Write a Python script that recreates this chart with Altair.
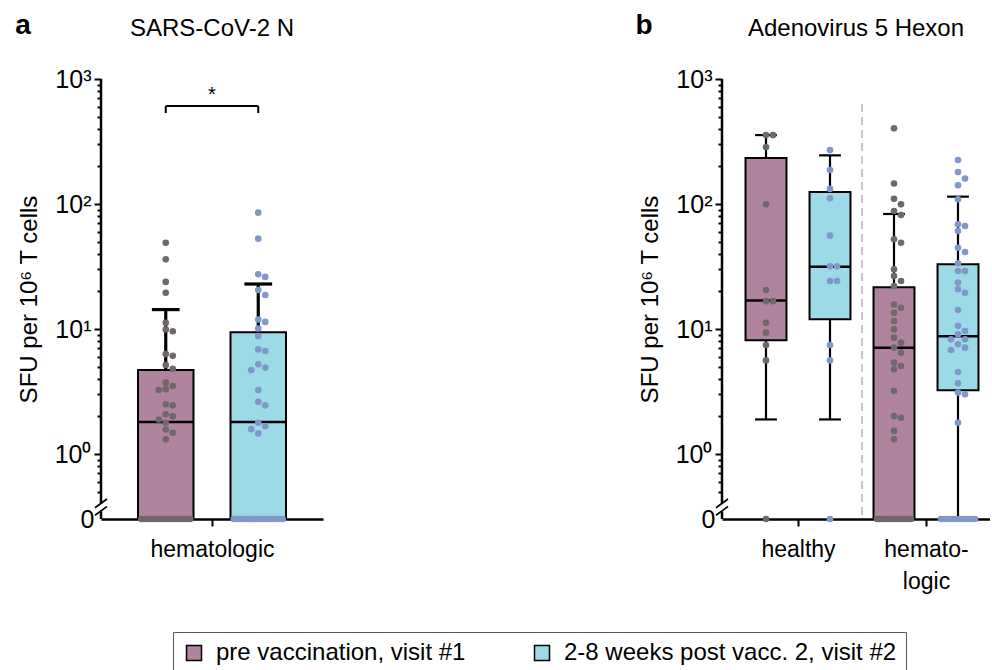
import numpy as np
import pandas as pd
import altair as alt

FONT = "Liberation Sans"

# ---------------- data ----------------
VISITS = ["pre vaccination, visit #1", "2-8 weeks post vacc. 2, visit #2"]
BOX_FILL = ["#b0839f", "#9cdae8"]
DOT_FILL = ["#6e686d", "#8196c9"]

# panel a: SARS-CoV-2 N, hematologic patients
A_GROUPS = ["hematologic"]
a_hem_pre = [49.0, 36.1, 23.8, 19.5, 11.2, 9.9, 9.6, 6.3, 6.1, 5.15, 4.8, 3.72, 3.5, 3.3,
             3.25, 2.5, 2.45, 2.08, 2.0, 1.89, 1.78, 1.57, 1.48, 1.31,
             0, 0, 0, 0, 0, 0, 0, 0, 0, 0, 0, 0, 0, 0, 0, 0, 0, 0, 0]
a_hem_post = [85.3, 52.8, 27.4, 26.1, 20.5, 18.7, 11.9, 11.4, 10.1, 8.79, 6.87, 6.67, 5.22,
              4.91, 4.70, 3.25, 2.61, 2.45, 1.78, 1.67, 1.58, 1.46,
              0, 0, 0, 0, 0, 0, 0, 0, 0, 0, 0, 0, 0, 0, 0, 0, 0]
# box statistics, order: pre, post
A_Q1 = [0, 0]
A_MED = [1.80, 1.80]
A_Q3 = [4.70, 9.4]
A_WLO = [0, 0]
A_WHI = [14.3, 22.9]

# panel b: Adenovirus 5 Hexon
B_GROUPS = ["healthy", "hematologic"]
b_healthy_pre = [356, 356, 286, 99.4, 20.5, 16.7, 16.7, 11.2, 9.35, 7.45, 5.61, 0]
b_healthy_post = [270, 187, 132, 111, 55.8, 31.7, 31.7, 24.2, 24.2, 7.45, 5.61, 0]
b_hem_pre = [403, 146, 110, 99.4, 87.9, 81.7, 52.2, 49.0, 30.0, 26.5, 24.2, 22.1, 15.7,
             14.8, 13.5, 11.6, 9.94, 8.53, 7.78, 7.09, 6.47, 5.38, 5.06, 4.76, 3.19, 2.01,
             1.95, 1.53, 1.31,
             0, 0, 0, 0, 0, 0, 0, 0, 0, 0, 0, 0, 0]
b_hem_post = [225, 180, 160, 141, 109, 68.8, 66.7, 60.8, 44.7, 41.3, 33.5, 29.1, 29.1, 23.5,
              20.8, 19.5, 14.2, 10.6, 9.64, 9.05, 8.27, 8.27, 7.54, 7.09, 6.79, 4.53, 3.68,
              3.10, 3.00, 1.78,
              0, 0, 0, 0, 0, 0, 0, 0, 0, 0]
# box statistics, order: healthy pre, healthy post, hematologic pre, hematologic post
B_Q1 = [8.13, 11.95, 0, 3.23]
B_MED = [16.9, 31.5, 7.09, 8.74]
B_Q3 = [233, 125, 21.6, 32.9]
B_WLO = [1.89, 1.89, 0, 0]
B_WHI = [356, 245, 83.2, 114.5]

# ---------------- layout constants ----------------
ZERO_T = -0.52           # position of the "0" level below the axis break (in decades)
BREAK_LO, BREAK_HI = -0.46, -0.40
TOP_T = 3.0
PLOT_H = 440
PX_DEC = PLOT_H / (TOP_T - ZERO_T)


def tr(field):
    return f"datum.{field} > 0 ? log(datum.{field}) / LN10 : {ZERO_T}"


def swarm(values, unit_px, half_px, d=7.0):
    """deterministic beeswarm offsets (in x units) so that dots do not overlap"""
    offs = [0.0] * len(values)
    zeros = [i for i, v in enumerate(values) if v == 0]
    if len(zeros) > 1:
        span = half_px - 3.5
        for k, i in enumerate(zeros):
            offs[i] = (-span + 2 * span * k / (len(zeros) - 1)) / unit_px
    placed = []
    order = sorted([i for i, v in enumerate(values) if v > 0], key=lambda i: -values[i])
    for i in order:
        y = np.log10(values[i]) * PX_DEC
        x = 0.0
        for k in [0, 1, -1, 2, -2, 3, -3]:
            x = k * d
            if all((x - px) ** 2 + (y - py) ** 2 >= (d - 0.5) ** 2 for px, py in placed):
                break
        placed.append((x, y))
        offs[i] = x / unit_px
    return offs


def points_frame(series, unit_px, half_px):
    rows = []
    for center, vi, vals in series:
        offs = swarm(vals, unit_px, half_px)
        for v, o in zip(vals, offs):
            rows.append({"px": center + o, "v": v, "dot": DOT_FILL[vi], "visit": VISITS[vi]})
    return pd.DataFrame(rows)


MINOR = [float(np.log10(k * 10.0 ** j)) for j in (-1, 0, 1, 2) for k in range(2, 10)
         if 0.5 <= k * 10.0 ** j < 1000]
Y_TICKS = [ZERO_T, 0, 1, 2, 3] + MINOR

YAXIS = alt.Axis(
    values=Y_TICKS, domain=False, grid=False,
    labelExpr="datum.value < -0.5 ? '0' : datum.value == 0 ? '10⁰' : datum.value == 1 ? '10¹' : "
              "datum.value == 2 ? '10²' : datum.value == 3 ? '10³' : ''",
    tickSize={"condition": {"test": "abs(datum.value - round(datum.value)) < 0.001", "value": 7}, "value": 4},
    tickOpacity={"condition": {"test": "datum.value < -0.5", "value": 0}, "value": 1},
    tickWidth=2, tickColor="black",
    labelFont=FONT, labelFontSize=25, labelColor="black", labelPadding=3,
    title="SFU per 10⁶ T cells", titleFont=FONT, titleFontSize=24, titleFontWeight="normal",
    titleColor="black", titlePadding=13,
)

PAD_L, PAD_T = 15, 12
# legend coordinates are relative to panel a's plot origin (100, 78)
LEGEND = alt.Legend(
    title=None, orient="none", legendX=172 - 100, legendY=631 - 78,
    direction="horizontal", columns=2, symbolType="square", symbolSize=225,
    symbolStrokeColor="black", symbolStrokeWidth=1.5, labelFont=FONT, labelFontSize=24,
    labelColor="black", labelLimit=600, labelOffset=10, columnPadding=64, padding=9,
    strokeColor="#555555",
)


def xaxis(vals, expr):
    return alt.Axis(values=vals, labelExpr=expr, grid=False, domain=True, domainColor="black",
                    domainWidth=2.5, ticks=True, tickSize=7, tickWidth=2, tickColor="black",
                    labelFont=FONT, labelFontSize=23, labelColor="black", labelPadding=12,
                    labelLineHeight=32, title=None, labelAngle=0, labelFlush=False)


def panel(pts, box, width, xdom, half_u, cap_u, wh_w, xvals, xexpr, letter, title, extras, legend):
    XS = alt.Scale(domain=xdom, nice=False, zero=False)
    YS = alt.Scale(domain=[ZERO_T, TOP_T], nice=False, zero=False)
    XA = xaxis(xvals, xexpr)

    def X(f):
        return alt.X(f, type="quantitative", scale=XS, axis=XA)

    def Y(f):
        return alt.Y(f, type="quantitative", scale=YS, axis=YAXIS)

    bx = alt.Chart(box).transform_calculate(
        tq1=tr("q1"), tmed=tr("med"), tq3=tr("q3"), twlo=tr("wlo"), twhi=tr("whi"),
        xl=f"datum.gc - {half_u}", xr=f"datum.gc + {half_u}",
        cl=f"datum.gc - {cap_u}", cr=f"datum.gc + {cap_u}")
    rect = bx.mark_rect(stroke="black", strokeWidth=2).encode(
        x=X("xl"), x2=alt.X2("xr"), y=Y("tq1"), y2=alt.Y2("tq3"),
        fill=alt.Fill("visit:N", scale=alt.Scale(domain=VISITS, range=BOX_FILL), legend=legend))
    w_up = bx.mark_rule(color="black", strokeWidth=wh_w).encode(
        x=X("gc"), y=Y("tq3"), y2=alt.Y2("twhi"))
    c_up = bx.mark_rule(color="black", strokeWidth=wh_w).encode(
        x=X("cl"), x2=alt.X2("cr"), y=Y("twhi"))
    w_dn = bx.mark_rule(color="black", strokeWidth=wh_w).encode(
        x=X("gc"), y=Y("twlo"), y2=alt.Y2("tq1"))
    c_dn = bx.transform_filter("datum.wlo > 0").mark_rule(color="black", strokeWidth=wh_w).encode(
        x=X("cl"), x2=alt.X2("cr"), y=Y("twlo"))
    med = bx.mark_rule(color="black", strokeWidth=2.5).encode(
        x=X("xl"), x2=alt.X2("xr"), y=Y("tmed"))

    axis_line = alt.Chart(pd.DataFrame({"y0": [BREAK_HI, ZERO_T], "y1": [TOP_T, BREAK_LO]})).mark_rule(
        color="black", strokeWidth=2.5).encode(x=alt.value(0), y=Y("y0"), y2=alt.Y2("y1"))
    slashes = alt.Chart(pd.DataFrame({"ya": [-0.43, -0.49], "yb": [-0.36, -0.42]})).mark_rule(
        color="black", strokeWidth=1.6).encode(x=alt.value(-6), x2=alt.value(6), y=Y("ya"), y2=alt.Y2("yb"))

    dots = alt.Chart(pts).transform_calculate(ty=tr("v")).mark_circle(size=44, opacity=1).encode(
        x=X("px"), y=Y("ty"), color=alt.Color("dot:N", scale=None))

    let = alt.Chart(pd.DataFrame({"t": [letter]})).mark_text(
        font=FONT, fontSize=28, fontWeight="bold", align="center", baseline="middle", color="black"
    ).encode(text="t:N", x=alt.value(-78), y=alt.value(-53))
    ttl = alt.Chart(pd.DataFrame({"t": [title]})).mark_text(
        font=FONT, fontSize=24, align="center", baseline="middle", color="black"
    ).encode(text="t:N", x=alt.value(width / 2), y=alt.value(-50))

    layers = [rect, w_up, c_up, w_dn, c_dn, med] + [e(X, Y) for e in extras] + [axis_line, slashes, dots, let, ttl]
    return alt.layer(*layers).properties(width=width, height=PLOT_H)


# ---------------- panel a ----------------
A_UNIT = 92.5
a_box = pd.DataFrame({"gc": [-0.5, 0.5], "visit": VISITS, "q1": A_Q1, "med": A_MED,
                      "q3": A_Q3, "wlo": A_WLO, "whi": A_WHI})
a_pts = points_frame([(-0.5, 0, a_hem_pre), (0.5, 1, a_hem_post)], A_UNIT, 28)


def bracket(X, Y):
    br = pd.DataFrame({"x1": [-0.5, -0.5, 0.5], "x2": [0.5, -0.5, 0.5],
                       "y1": [2.784, 2.784, 2.784], "y2": [2.784, 2.728, 2.728]})
    return alt.Chart(br).mark_rule(color="black", strokeWidth=2).encode(
        x=X("x1"), x2=alt.X2("x2"), y=Y("y1"), y2=alt.Y2("y2"))


def star(X, Y):
    return alt.Chart(pd.DataFrame({"x": [0.0], "y": [2.87], "t": ["*"]})).mark_text(
        font=FONT, fontSize=20, color="black", baseline="middle").encode(x=X("x"), y=Y("y"), text="t:N")


pa = panel(a_pts, a_box, 222, [-1.2, 1.2], 0.30, 0.15, 3.2, [0],
           f"'{A_GROUPS[0]}'", "a", "SARS-CoV-2 N", [bracket, star], LEGEND)

# ---------------- panel b ----------------
B_UNIT = 64.0
b_box = pd.DataFrame({"gc": [-0.5, 0.5, 1.5, 2.5], "visit": VISITS * 2, "q1": B_Q1, "med": B_MED,
                      "q3": B_Q3, "wlo": B_WLO, "whi": B_WHI})
b_pts = points_frame([(-0.5, 0, b_healthy_pre), (0.5, 1, b_healthy_post),
                      (1.5, 0, b_hem_pre), (2.5, 1, b_hem_post)], B_UNIT, 20.5)


def separator(X, Y):
    return alt.Chart(pd.DataFrame({"x": [1.0], "y1": [2.80], "y2": [ZERO_T + 0.02]})).mark_rule(
        color="#c8c8c8", strokeWidth=2, strokeDash=[8, 5]).encode(x=X("x"), y=Y("y1"), y2=alt.Y2("y2"))


pb = panel(b_pts, b_box, 268, [-1.1875, 3.0], 0.32, 0.17, 2.2, [0, 2],
           f"datum.value < 1 ? '{B_GROUPS[0]}' : ['hemato-', 'logic']", "b", "Adenovirus 5 Hexon",
           [separator], None)

chart = alt.hconcat(pa, pb, spacing=312).resolve_scale(fill="shared").properties(
    padding={"left": PAD_L, "top": PAD_T, "right": 0, "bottom": 0}
).configure_view(stroke=None)

chart.save("out.html", embed_options={"renderer": "svg", "actions": False})
